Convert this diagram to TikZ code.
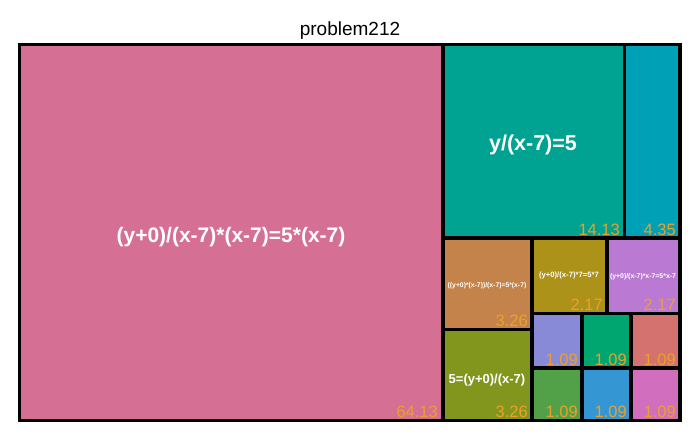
\documentclass[tikz,border=0pt]{standalone}
\usepackage{fontspec}
\setmainfont{Liberation Sans}
\usetikzlibrary{positioning}

\definecolor{pinkA}{RGB}{213,112,148}
\definecolor{tealA}{RGB}{0,163,145}
\definecolor{cyanA}{RGB}{0,161,182}
\definecolor{brownA}{RGB}{196,131,74}
\definecolor{oliveA}{RGB}{172,146,24}
\definecolor{purpleA}{RGB}{186,122,212}
\definecolor{moss}{RGB}{130,150,30}
\definecolor{lavender}{RGB}{136,138,216}
\definecolor{jade}{RGB}{0,166,112}
\definecolor{salmon}{RGB}{212,114,112}
\definecolor{leaf}{RGB}{82,160,72}
\definecolor{skyA}{RGB}{52,150,210}
\definecolor{orchid}{RGB}{210,110,190}
\definecolor{valorange}{RGB}{236,160,40}

\begin{document}
\begin{tikzpicture}[x=1pt,y=-1pt,
    tile/.style={draw=black,line width=3.2pt},
    val/.style={text=valorange,anchor=south east,inner sep=1pt,font=\fontsize{16.5}{16}\selectfont},
    lbl/.style={text=white,inner sep=0pt}]
    \useasboundingbox (0,0) rectangle (700,433);

    % title
    \node[font=\fontsize{19}{19}\selectfont,anchor=base] (title) at (350,36) {problem212};

    % big tiles
    \draw[tile,fill=pinkA] (19.5,44.5) rectangle (443,420.5);
    \draw[tile,fill=tealA] (443,44.5) rectangle (624.5,238);
    \draw[tile,fill=cyanA] (624.5,44.5) rectangle (680,238);

    % middle row
    \draw[tile,fill=brownA] (443,238) rectangle (532,329.5);
    \draw[tile,fill=moss] (443,329.5) rectangle (532,420.5);
    \draw[tile,fill=oliveA] (532,238) rectangle (607,313.5);
    \draw[tile,fill=purpleA] (607,238) rectangle (680,313.5);

    % small tiles
    \draw[tile,fill=lavender] (532,313.5) rectangle (582,368);
    \draw[tile,fill=jade] (582,313.5) rectangle (631,368);
    \draw[tile,fill=salmon] (631,313.5) rectangle (680,368);
    \draw[tile,fill=leaf] (532,368) rectangle (582,420.5);
    \draw[tile,fill=skyA] (582,368) rectangle (631,420.5);
    \draw[tile,fill=orchid] (631,368) rectangle (680,420.5);
    \draw[line width=3.6pt] (19.5,44.5) rectangle (680,420.5);

    % labels
    \node[lbl,font=\bfseries\fontsize{21}{21}\selectfont] (eqA) at (231,237) {(y+0)/(x-7)*(x-7)=5*(x-7)};
    \node[lbl,font=\bfseries\fontsize{21.5}{21}\selectfont] (eqB) at (533,145) {y/(x-7)=5};
    \node[lbl,font=\bfseries\fontsize{6.8}{7}\selectfont] (eqC) at (487,286) {((y+0)*(x-7))/(x-7)=5*(x-7)};
    \node[lbl,font=\bfseries\fontsize{7.7}{8}\selectfont] (eqD) at (569,276) {(y+0)/(x-7)*7=5*7};
    \node[lbl,font=\bfseries\fontsize{6.9}{7}\selectfont] (eqE) at (643,277) {(y+0)/(x-7)*x-7=5*x-7};
    \node[lbl,font=\bfseries\fontsize{13}{13}\selectfont] (eqF) at (487,380) {5=(y+0)/(x-7)};

    % values
    \node[val] (vA) at (439,419) {64.13};
    \node[val] (vB) at (621,236.5) {14.13};
    \node[val] (vC) at (677,236.5) {4.35};
    \node[val] (vD) at (529,328) {3.26};
    \node[val] (vE) at (529,419) {3.26};
    \node[val] (vF) at (604,312) {2.17};
    \node[val] (vG) at (677,312) {2.17};
    \node[val] (vH) at (579,366.5) {1.09};
    \node[val] (vI) at (628,366.5) {1.09};
    \node[val] (vJ) at (677,366.5) {1.09};
    \node[val] (vK) at (579,419) {1.09};
    \node[val] (vL) at (628,419) {1.09};
    \node[val] (vM) at (677,419) {1.09};
\end{tikzpicture}
\end{document}
